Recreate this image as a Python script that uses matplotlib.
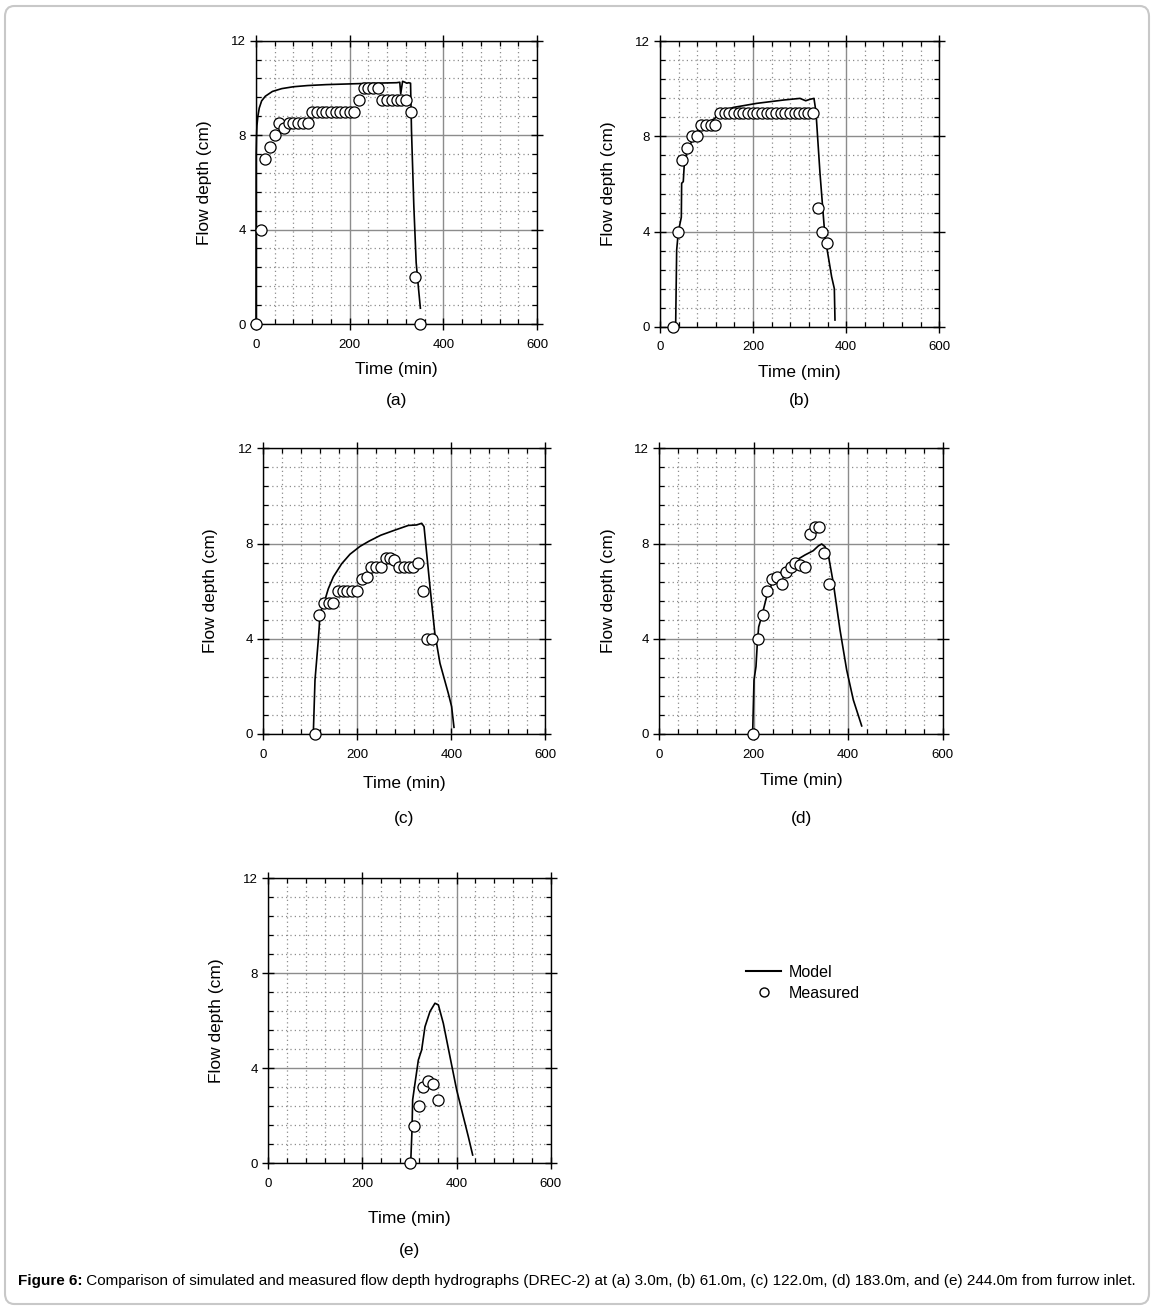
import matplotlib
matplotlib.use("Agg")
import matplotlib.pyplot as plt
from matplotlib.ticker import MultipleLocator
from matplotlib.patches import FancyBboxPatch
from matplotlib.lines import Line2D

plt.rcParams['font.family'] = ['Liberation Sans', 'DejaVu Sans']

# ---------------- data ----------------
# (a) 3.0 m
a_meas_t = [0, 10, 20, 30, 40, 50, 60, 70, 80, 90, 100, 110,
            120, 130, 140, 150, 160, 170, 180, 190, 200, 210,
            220, 230, 240, 250, 260, 270, 280, 290, 300, 310, 320, 330, 340, 350]
a_meas_d = [0, 4.0, 7.0, 7.5, 8.0, 8.5, 8.3, 8.5, 8.5, 8.5, 8.5, 8.5,
            9.0, 9.0, 9.0, 9.0, 9.0, 9.0, 9.0, 9.0, 9.0, 9.0,
            9.5, 10.0, 10.0, 10.0, 10.0, 9.5, 9.5, 9.5, 9.5, 9.5, 9.5, 9.0, 2.0, 0]
a_model_t = [0, 0.3, 1, 2, 4, 7, 12, 20, 35, 55, 80, 110, 150, 200, 250, 300, 307,
             309, 313, 318, 322, 326, 330, 331, 332, 337, 342, 347, 351]
a_model_d = [0, 7.2, 7.9, 8.4, 8.8, 9.15, 9.45, 9.65, 9.85, 9.97, 10.05, 10.1, 10.14,
             10.17, 10.2, 10.22, 10.24, 9.75, 10.28, 10.24, 10.2, 10.22, 10.2, 9.2, 8.2,
             5.0, 2.6, 1.5, 0.67]

# (b) 61.0 m
b_meas_t = [27, 39, 48, 58, 68, 79, 89, 99, 109, 119,
            129, 139, 149, 159, 169, 179, 189, 199, 209, 219, 229, 239, 249,
            259, 269, 279, 289, 299, 309, 319, 329, 339, 349, 359]
b_meas_d = [0, 4.0, 7.0, 7.5, 8.0, 8.0, 8.5, 8.5, 8.5, 8.5,
            9.0, 9.0, 9.0, 9.0, 9.0, 9.0, 9.0, 9.0, 9.0, 9.0, 9.0, 9.0, 9.0,
            9.0, 9.0, 9.0, 9.0, 9.0, 9.0, 9.0, 9.0, 5.0, 4.0, 3.5]
b_model_t = [33.6, 35.8, 39.4, 45.8, 46.5, 50, 52.3, 58.7, 71.6, 82.3, 100, 118, 125,
             157.5, 207.6, 265, 300.7, 313, 322, 330.8, 335, 343.7, 354.4, 368.7,
             374.5, 375.9]
b_model_d = [0, 3.22, 4.0, 4.6, 6.03, 6.1, 6.87, 7.43, 7.92, 8.27, 8.55, 8.76, 9.0,
             9.22, 9.39, 9.53, 9.6, 9.5, 9.56, 9.6, 9.04, 6.45, 3.79, 2.1, 1.6, 0.28]

# (c) 122.0 m
c_meas_t = [110, 119, 129, 139, 149, 159, 169, 179, 189, 199, 210, 220,
            230, 240, 250, 260, 270, 279, 289, 299, 309, 319, 330, 339, 349, 359]
c_meas_d = [0, 5.0, 5.5, 5.5, 5.5, 6.0, 6.0, 6.0, 6.0, 6.0, 6.5, 6.6,
            7.0, 7.0, 7.0, 7.4, 7.4, 7.3, 7.0, 7.0, 7.0, 7.0, 7.2, 6.0, 4.0, 4.0]
c_model_t = [106.4, 110, 113.5, 117, 119, 120.6, 129, 138.3, 149, 166.7, 184.4,
             205.7, 225, 250, 276.6, 308.5, 326, 337, 342, 354.6, 365, 375.9, 393.6,
             400.7, 405.7]
c_model_d = [0, 2.27, 3.1, 3.95, 4.5, 5.07, 5.49, 6.1, 6.6, 7.15, 7.55, 7.88,
             8.1, 8.35, 8.54, 8.76, 8.78, 8.85, 8.71, 6.19, 4.23, 2.97, 1.71, 1.15, 0.28]

# (d) 183.0 m
d_meas_t = [199, 209, 219, 229, 239, 249, 259, 268, 278, 288, 298, 309,
            319, 329, 339, 349, 359]
d_meas_d = [0, 4.0, 5.0, 6.0, 6.5, 6.6, 6.3, 6.8, 7.0, 7.2, 7.1, 7.0,
            8.4, 8.7, 8.7, 7.6, 6.3]
d_model_t = [197.6, 200.5, 204.7, 207.5, 210.4, 216.7, 227.3, 241.4, 262.6, 290.8,
             308.5, 326, 336.7, 343.8, 350.8, 357.9, 368.5, 382.6, 396.7, 410.8, 428.5]
d_model_d = [0, 2.27, 2.83, 3.81, 4.5, 4.93, 5.77, 6.47, 6.89, 7.31, 7.52, 7.7,
             7.9, 7.98, 7.87, 7.52, 6.33, 4.37, 2.69, 1.43, 0.34]

# (e) 244.0 m
e_meas_t = [300, 310, 320, 329, 339, 349, 360]
e_meas_d = [0, 1.55, 2.4, 3.2, 3.45, 3.35, 2.65]
e_model_t = [302.5, 305.3, 306.7, 311.7, 318.8, 325.8, 332.9, 343.5, 354.1, 361.3,
             371.9, 386, 400.2, 414.4, 425, 434.2]
e_model_d = [0, 1.4, 2.67, 3.37, 4.35, 4.77, 5.75, 6.39, 6.74, 6.67, 5.89, 4.49,
             3.09, 1.96, 1.12, 0.35]

panel_letters = ['(a)', '(b)', '(c)', '(d)', '(e)']
x_label = 'Time (min)'
y_label = 'Flow depth (cm)'
x_ticks = [0, 200, 400, 600]
y_ticks = [0, 4, 8, 12]
legend_labels = ['Model', 'Measured']
caption_bold = 'Figure 6:'
caption_rest = (' Comparison of simulated and measured flow depth hydrographs (DREC-2) at '
                '(a) 3.0m, (b) 61.0m, (c) 122.0m, (d) 183.0m, and (e) 244.0m from furrow inlet.')

# ---------------- layout (pixels) ----------------
W, H = 1154, 1309
fig = plt.figure(figsize=(W / 100, H / 100), dpi=100)

boxes = [  # left, right, top, bottom in pixels
    (256, 537, 40.7, 324),
    (660, 939.3, 41.3, 326.7),
    (263.3, 545.3, 448.3, 734),
    (659.3, 942.7, 448.3, 734),
    (268.3, 550.7, 878.3, 1163.3),
]
xlab_y = [370, 373, 784, 781, 1218]
let_y = [400, 400, 818, 819, 1250]
ylab_x = [205, 608, 211, 608, 216]

series = [
    (a_meas_t, a_meas_d, a_model_t, a_model_d),
    (b_meas_t, b_meas_d, b_model_t, b_model_d),
    (c_meas_t, c_meas_d, c_model_t, c_model_d),
    (d_meas_t, d_meas_d, d_model_t, d_model_d),
    (e_meas_t, e_meas_d, e_model_t, e_model_d),
]

for i, ((l, r, t, b), (mt, md, lt, ld)) in enumerate(zip(boxes, series)):
    ax = fig.add_axes([l / W, 1 - b / H, (r - l) / W, (b - t) / H])
    ax.set_xlim(0, 600)
    ax.set_ylim(0, 12)
    ax.xaxis.set_major_locator(MultipleLocator(200))
    ax.xaxis.set_minor_locator(MultipleLocator(40))
    ax.yaxis.set_major_locator(MultipleLocator(4))
    ax.yaxis.set_minor_locator(MultipleLocator(0.8))
    ax.set_xticks(x_ticks)
    ax.set_yticks(y_ticks)
    ax.grid(which='major', color='#8c8c8c', lw=1.0, ls='-', zorder=0)
    ax.grid(which='minor', color='#8c8c8c', lw=0.9, ls=(0, (1, 2.5)), zorder=0)
    ax.set_axisbelow(True)
    ax.tick_params(which='major', direction='inout', length=9, width=1.0,
                   top=True, right=True, labelsize=9.5, pad=3, colors='black')
    ax.tick_params(axis='x', which='major', pad=6)
    ax.tick_params(which='minor', direction='in', length=3.5, width=0.9,
                   top=True, right=True)
    for s in ax.spines.values():
        s.set_linewidth(1.0)
        s.set_color('black')
    ax.plot(lt, ld, color='black', lw=1.2, zorder=3, clip_on=False)
    ax.plot(mt, md, ls='none', marker='o', ms=8, mfc='white', mec='black',
            mew=0.9, zorder=4, clip_on=False)
    cx = (l + r) / 2
    fig.text(cx / W, 1 - xlab_y[i] / H, x_label, ha='center', va='center', fontsize=12.5)
    fig.text(cx / W, 1 - let_y[i] / H, panel_letters[i], ha='center', va='center', fontsize=12.5)
    fig.text(ylab_x[i] / W, 1 - ((t + b) / 2) / H, y_label, ha='center', va='center',
             rotation=90, fontsize=12.5)

# legend
lh1 = Line2D([], [], color='black', lw=1.5)
lh2 = Line2D([], [], ls='none', marker='o', ms=6.5, mfc='white', mec='black', mew=1.0)
fig.legend([lh1, lh2], legend_labels, loc='upper left',
           bbox_to_anchor=(746 / W, 1 - 965 / H), frameon=False, fontsize=11.5,
           handlelength=2.2, handletextpad=0.5, labelspacing=0.35, borderpad=0,
           borderaxespad=0)

# border
border = FancyBboxPatch((5 / W, 5 / H), 1144 / W, 1298 / H,
                        boxstyle='round,pad=0,rounding_size=0.008',
                        transform=fig.transFigure, fill=False, ec='#c8c8c8', lw=1.5)
fig.patches.append(border)

# caption
renderer = fig.canvas.get_renderer()
t1 = fig.text(18 / W, 1 - 1281 / H, caption_bold, fontsize=11, fontweight='bold',
              ha='left', va='center')
bb = t1.get_window_extent(renderer=renderer)
fig.text(bb.x1 / W, 1 - 1281 / H, caption_rest, fontsize=11, ha='left', va='center')

fig.savefig('out.png', dpi=100)
